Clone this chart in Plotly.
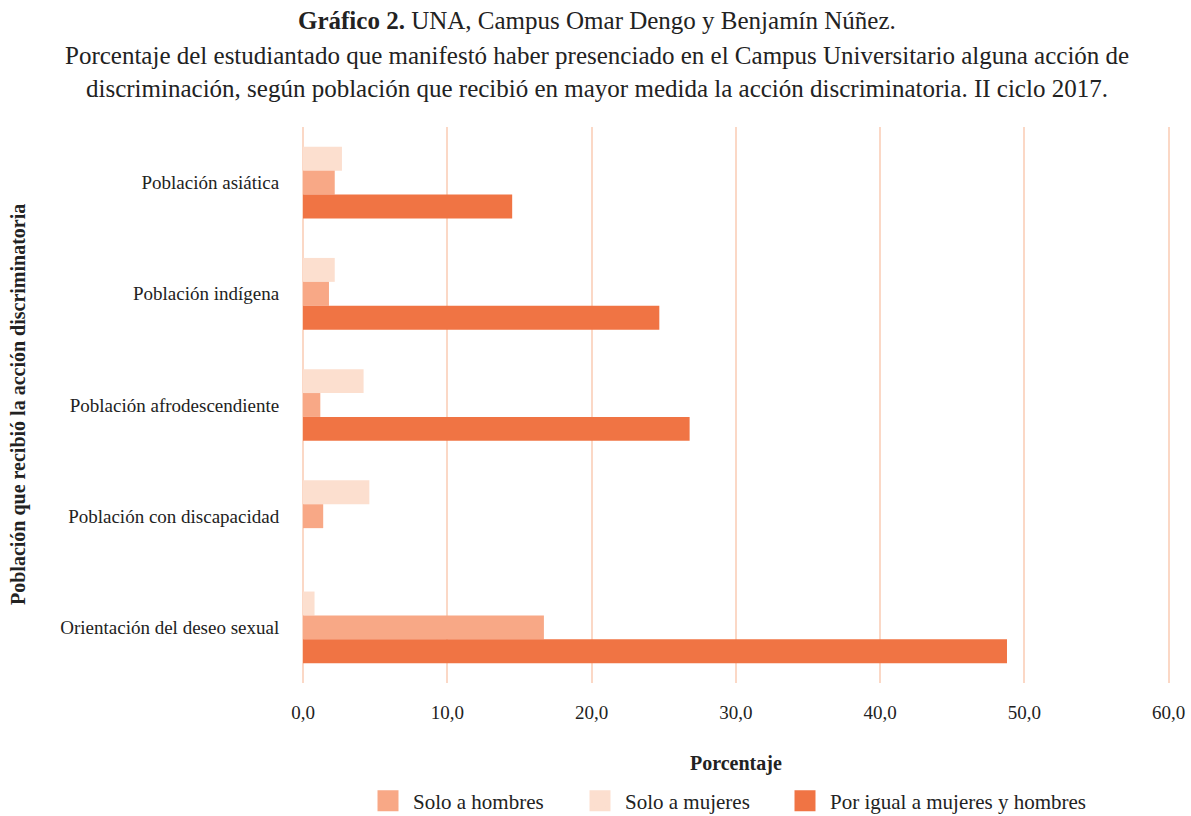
import plotly.graph_objects as go

categorias = [
    "Población asiática",
    "Población indígena",
    "Población afrodescendiente",
    "Población con discapacidad",
    "Orientación del deseo sexual",
]
solo_mujeres = [2.7, 2.2, 4.2, 4.6, 0.8]
solo_hombres = [2.2, 1.8, 1.2, 1.4, 16.7]
por_igual = [14.5, 24.7, 26.8, None, 48.8]
ticks_x = [0, 10, 20, 30, 40, 50, 60]

FONT = "Liberation Serif"
C_MUJ = "#FCDFCF"
C_HOM = "#F8A886"
C_IGU = "#F07444"
C_GRID = "#FBD8C6"
TXT = "#222222"

W, H = 1191, 816
ML, MR, MT, MB = 303, 21, 127, 133
PW, PH = W - ML - MR, H - MT - MB


def px_x(x):
    return (x - ML) / PW


def px_y(y):
    return (H - MB - y) / PH


fig = go.Figure()
fig.add_trace(go.Bar(y=categorias, x=solo_mujeres, orientation="h", name="Solo a mujeres",
                     marker=dict(color=C_MUJ, line=dict(width=0)), showlegend=False))
fig.add_trace(go.Bar(y=categorias, x=solo_hombres, orientation="h", name="Solo a hombres",
                     marker=dict(color=C_HOM, line=dict(width=0)), showlegend=False))
fig.add_trace(go.Bar(y=categorias, x=por_igual, orientation="h", name="Por igual a mujeres y hombres",
                     marker=dict(color=C_IGU, line=dict(width=0)), showlegend=False))

# one legend per entry so each swatch sits at its own spot along the bottom row
entradas = [("Solo a hombres", C_HOM, "legend", 363),
            ("Solo a mujeres", C_MUJ, "legend2", 575),
            ("Por igual a mujeres y hombres", C_IGU, "legend3", 780)]
legend_layout = {}
for nombre, color, leg, xpix in entradas:
    fig.add_trace(go.Scatter(x=[None], y=[None], mode="markers", name=nombre, legend=leg,
                             marker=dict(symbol="square", size=16, color=color,
                                         line=dict(width=5, color=color)),
                             hoverinfo="skip"))
    legend_layout[leg] = dict(orientation="h", x=xpix / W, xanchor="left", xref="container",
                              y=1 - 801 / H, yanchor="middle", yref="container",
                              bgcolor="rgba(0,0,0,0)",
                              font=dict(family=FONT, size=21, color=TXT), itemsizing="trace",
                              itemwidth=40)

fig.update_layout(
    width=W, height=H,
    margin=dict(l=ML, r=MR, t=MT, b=MB, autoexpand=False),
    paper_bgcolor="white", plot_bgcolor="white",
    barmode="group", bargap=0.355, bargroupgap=0,
    separators=",.",
    font=dict(family=FONT, size=19, color=TXT),
    showlegend=True,
    **legend_layout,
)
fig.update_xaxes(range=[0, 60.1], tickvals=ticks_x, tickformat=".1f", automargin=False,
                 showgrid=True, gridcolor=C_GRID, gridwidth=2,
                 zeroline=True, zerolinecolor=C_GRID, zerolinewidth=2,
                 showline=False, ticks="outside", ticklen=12, tickcolor="rgba(0,0,0,0)",
                 tickfont=dict(family=FONT, size=19, color=TXT), fixedrange=True)
fig.update_yaxes(autorange="reversed", showgrid=False, showline=False, automargin=False,
                 ticks="outside", ticklen=19, tickcolor="rgba(0,0,0,0)",
                 tickfont=dict(family=FONT, size=19, color=TXT))

titulos = [
    ("<b>Gráfico 2.</b> UNA, Campus Omar Dengo y Benjamín Núñez.", 20),
    ("Porcentaje del estudiantado que manifestó haber presenciado en el Campus Universitario alguna acción de", 56),
    ("discriminación, según población que recibió en mayor medida la acción discriminatoria. II ciclo 2017.", 89),
]
for texto, ypix in titulos:
    fig.add_annotation(text=texto, xref="paper", yref="paper", x=px_x(597), y=px_y(ypix),
                       xanchor="center", yanchor="middle", showarrow=False,
                       font=dict(family=FONT, size=25, color=TXT))

fig.add_annotation(text="<b>Porcentaje</b>", xref="paper", yref="paper", x=px_x(736), y=px_y(763),
                   xanchor="center", yanchor="middle", showarrow=False,
                   font=dict(family=FONT, size=20, color=TXT))
fig.add_annotation(text="<b>Población que recibió la acción discriminatoria</b>", xref="paper", yref="paper",
                   x=px_x(18), y=px_y(405), xanchor="center", yanchor="middle",
                   textangle=-90, showarrow=False, font=dict(family=FONT, size=20, color=TXT))

fig.write_html("out.html")
